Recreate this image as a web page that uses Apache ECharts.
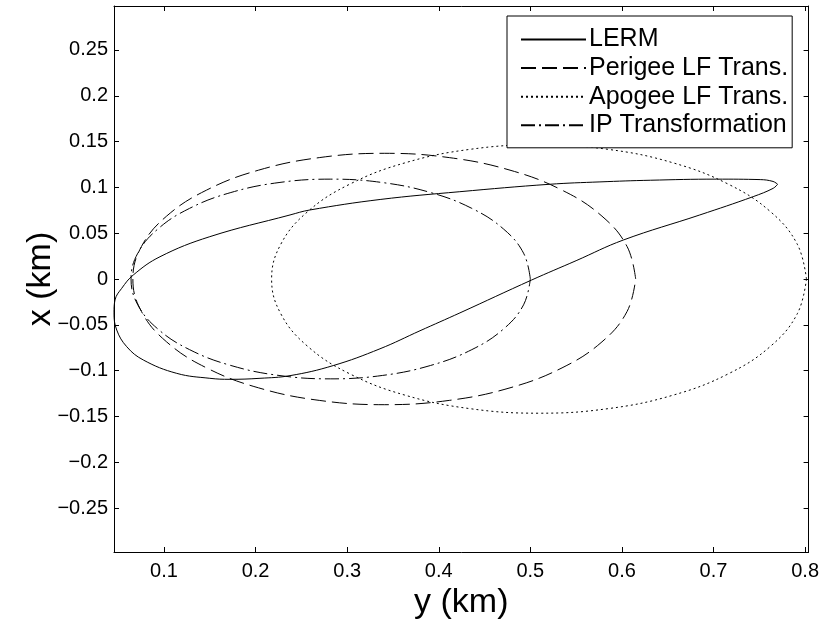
<!DOCTYPE html>
<html>
<head>
<meta charset="utf-8">
<script src="https://cdn.jsdelivr.net/npm/echarts@6/dist/echarts.min.js"></script>
<style>html,body{margin:0;padding:0;background:#fff}#c{width:822px;height:625px}</style>
</head>
<body>
<div id="c"></div>
<script>
// [y (km), x (km)] pairs
const lerm = [[0.770,0.1034],[0.765,0.1065],[0.751,0.1085],[0.703,0.1090],[0.631,0.1078],[0.576,0.1060],[0.521,0.1034],[0.423,0.0953],[0.336,0.0868],[0.259,0.0753],[0.2376,0.0699],[0.150,0.0462],[0.0956,0.0243],[0.0665,0.0044],[0.0538,-0.0102],[0.0465,-0.0229],[0.0454,-0.0370],[0.0484,-0.0557],[0.0593,-0.0739],[0.0774,-0.0884],[0.1139,-0.1030],[0.150,-0.1084],[0.172,-0.1095],[0.2048,-0.1084],[0.2376,-0.1055],[0.2848,-0.0945],[0.3358,-0.0762],[0.3795,-0.0565],[0.4231,-0.0370],[0.5014,-0.0011],[0.550,0.0200],[0.6014,0.0425],[0.685,0.0699],[0.7433,0.0899],[0.7652,0.0990],[0.770,0.1034]];
const perigee = [[0.615,0],[0.6056,0.0355],[0.5782,0.0686],[0.5346,0.0970],[0.4778,0.1188],[0.4115,0.1325],[0.3405,0.1372],[0.2695,0.1325],[0.2032,0.1188],[0.1464,0.0970],[0.1028,0.0686],[0.0754,0.0355],[0.0660,0],[0.0754,-0.0355],[0.1028,-0.0686],[0.1464,-0.0970],[0.2032,-0.1188],[0.2695,-0.1325],[0.3405,-0.1372],[0.4115,-0.1325],[0.4778,-0.1188],[0.5346,-0.0970],[0.5782,-0.0686],[0.6056,-0.0355],[0.615,0]];
const apogee = [[0.8015,0],[0.7915,0.0379],[0.7624,0.0733],[0.7160,0.1036],[0.6555,0.1269],[0.5851,0.1415],[0.5095,0.1465],[0.4339,0.1415],[0.3635,0.1269],[0.3030,0.1036],[0.2566,0.0733],[0.2275,0.0379],[0.2175,0],[0.2275,-0.0379],[0.2566,-0.0733],[0.3030,-0.1036],[0.3635,-0.1269],[0.4339,-0.1415],[0.5095,-0.1465],[0.5851,-0.1415],[0.6555,-0.1269],[0.7160,-0.1036],[0.7624,-0.0733],[0.7915,-0.0379],[0.8015,0]];
const ipTrans = [[0.500,0],[0.4926,0.0282],[0.4708,0.0545],[0.4361,0.0771],[0.3910,0.0944],[0.3384,0.1053],[0.2820,0.1090],[0.2256,0.1053],[0.1730,0.0944],[0.1279,0.0771],[0.0932,0.0545],[0.0714,0.0282],[0.0640,0],[0.0714,-0.0282],[0.0932,-0.0545],[0.1279,-0.0771],[0.1730,-0.0944],[0.2256,-0.1053],[0.2820,-0.1090],[0.3384,-0.1053],[0.3910,-0.0944],[0.4361,-0.0771],[0.4708,-0.0545],[0.4926,-0.0282],[0.500,0]];
const seriesNames = ['LERM','Perigee LF Trans.','Apogee LF Trans.','IP Transformation'];
const xTicks = [0.1,0.2,0.3,0.4,0.5,0.6,0.7,0.8];
const yTicks = [-0.25,-0.2,-0.15,-0.1,-0.05,0,0.05,0.1,0.15,0.2,0.25];
const xRange = [0.0454, 0.8038];
const yRange = [-0.298, 0.298];

const FONT = 'Liberation Sans, Arial, Helvetica, sans-serif';
const fmt = v => String(Math.round(v*100)/100).replace('-', '\u2212');
const chart = echarts.init(document.getElementById('c'));
const tick = vals => ({show:true, inside:true, length:5, customValues: vals, lineStyle:{color:'#000', width:1}});
const axLine = {show:true, onZero:false, lineStyle:{color:'#000', width:1}};
const mk = (name, data, type) => ({
  name, type:'line', data, symbol:'none', smooth:0.4, animation:false,
  lineStyle:{color:'#000', width:1, type}, itemStyle:{color:'#000'}, z:2
});
chart.setOption({
  animation:false,
  backgroundColor:'#fff',
  grid:{left:114, right:13, top:6, bottom:73, containLabel:false},
  xAxis:[
    {type:'value', min:xRange[0], max:xRange[1], position:'bottom',
     axisLine:axLine, axisTick:tick(xTicks), splitLine:{show:false},
     axisLabel:{customValues:xTicks, formatter:fmt, margin:9, color:'#000', fontSize:20, fontFamily:FONT},
     name:'y (km)', nameLocation:'middle', nameGap:34, nameMoveOverlap:false,
     nameTextStyle:{fontSize:34, fontFamily:FONT, color:'#000'}},
    {type:'value', min:xRange[0], max:xRange[1], position:'top',
     axisLine:axLine, axisTick:tick(xTicks), splitLine:{show:false}, axisLabel:{show:false}}
  ],
  yAxis:[
    {type:'value', min:yRange[0], max:yRange[1], position:'left',
     axisLine:axLine, axisTick:tick(yTicks), splitLine:{show:false},
     axisLabel:{customValues:yTicks, formatter:fmt, margin:6, color:'#000', fontSize:20, fontFamily:FONT},
     name:'x (km)', nameLocation:'middle', nameGap:56, nameRotate:90, nameMoveOverlap:false,
     nameTextStyle:{fontSize:34, fontFamily:FONT, color:'#000'}},
    {type:'value', min:yRange[0], max:yRange[1], position:'right',
     axisLine:axLine, axisTick:tick(yTicks), splitLine:{show:false}, axisLabel:{show:false}}
  ],
  legend:{
    data:seriesNames, orient:'vertical', left:507, top:16,
    padding:[11,4,10,13], itemGap:3.6, itemWidth:65, itemHeight:14,
    itemStyle:{color:'rgba(0,0,0,0)', borderWidth:0, opacity:0},
    backgroundColor:'#fff', borderColor:'#000', borderWidth:1, borderRadius:0,
    textStyle:{fontSize:25, fontFamily:FONT, color:'#000', padding:[0,0,0,-2]},
    z:10
  },
  series:[
    mk(seriesNames[0], lerm, 'solid'),
    mk(seriesNames[1], perigee, [15,6]),
    mk(seriesNames[2], apogee, [2,3]),
    mk(seriesNames[3], ipTrans, [14,4,2,4])
  ]
});
</script>
</body>
</html>
